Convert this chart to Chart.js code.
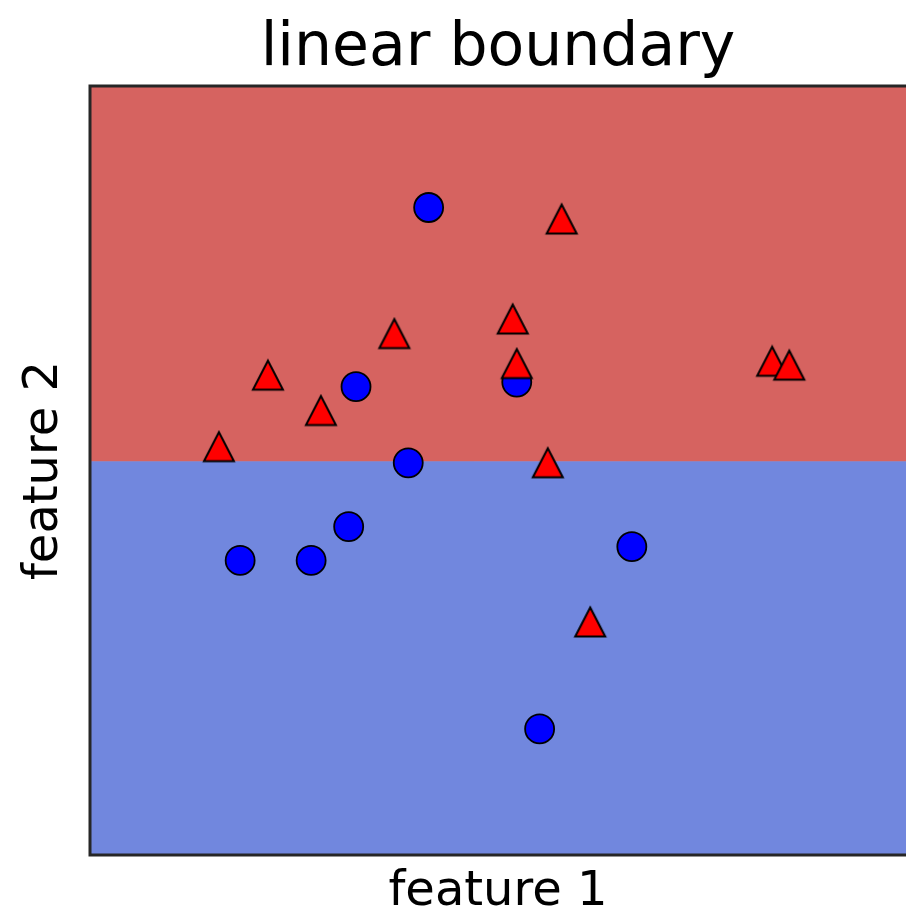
<!DOCTYPE html>
<html>
<head>
<meta charset="utf-8">
<script src="https://cdn.jsdelivr.net/npm/chart.js@4"></script>
<style>
  body { margin: 0; background: #fff; }
  canvas { display: block; }
</style>
</head>
<body>
<canvas id="mycanvas" width="906" height="914"></canvas>
<script>
// class 0 (circles) and class 1 (triangles)
var circleX = [4.15, 3.26, 5.23, 3.90, 3.17, 1.84, 2.71, 6.64, 5.51];
var circleY = [8.42, 6.09, 6.15, 5.10, 4.27, 3.83, 3.83, 4.01, 1.64];
var triX = [5.78, 5.18, 3.73, 2.18, 5.23, 2.83, 1.58, 5.61, 6.13, 8.36, 8.57];
var triY = [8.27, 6.97, 6.78, 6.24, 6.39, 5.78, 5.31, 5.10, 3.03, 6.42, 6.37];
var boundaryY = 5.12;
var xRange = [0, 10];
var yRange = [0, 10];

function toPoints(xs, ys) {
	var pts = [];
	for (var i in xs) {
		pts.push({ x: xs[i], y: ys[i] });
	}
	return pts;
}

// matplotlib style '^' marker
function triangleMarker() {
	var c = document.createElement('canvas');
	c.width = 36;
	c.height = 34;
	var g = c.getContext('2d');
	g.beginPath();
	g.moveTo(18, 2.5);
	g.lineTo(33, 31.5);
	g.lineTo(3, 31.5);
	g.closePath();
	g.fillStyle = '#ff0000';
	g.fill();
	g.lineWidth = 2;
	g.strokeStyle = '#000000';
	g.stroke();
	return c;
}

var frame = {
	id: 'frame',
	afterDraw: function (chart) {
		var a = chart.chartArea;
		var ctx = chart.ctx;
		ctx.save();
		ctx.strokeStyle = '#262626';
		ctx.lineWidth = 3;
		ctx.beginPath();
		ctx.moveTo(a.right + 2, a.top);
		ctx.lineTo(a.left, a.top);
		ctx.lineTo(a.left, a.bottom);
		ctx.lineTo(a.right + 2, a.bottom);
		ctx.stroke();
		ctx.restore();
	}
};

var region = [{ x: xRange[0], y: boundaryY }, { x: xRange[1], y: boundaryY }];

var ctx = document.getElementById('mycanvas');
new Chart(ctx, {
	type: 'scatter',
	data: {
		datasets: [
			{
				label: 'class 1',
				data: toPoints(triX, triY),
				pointStyle: triangleMarker(),
				pointRadius: 16,
				pointHoverRadius: 16
			},
			{
				label: 'class 0',
				data: toPoints(circleX, circleY),
				pointStyle: 'circle',
				pointRadius: 14.5,
				pointHoverRadius: 14.5,
				backgroundColor: '#0000ff',
				borderColor: '#000000',
				borderWidth: 1.8
			},
			{
				type: 'line',
				label: 'upper',
				data: region,
				fill: 'end',
				backgroundColor: 'rgb(214, 99, 96)',
				borderWidth: 0,
				pointRadius: 0
			},
			{
				type: 'line',
				label: 'lower',
				data: region,
				fill: 'start',
				backgroundColor: 'rgb(113, 135, 222)',
				borderColor: 'rgb(113, 135, 222)',
				borderWidth: 1,
				pointRadius: 0
			}
		]
	},
	options: {
		responsive: false,
		animation: false,
		events: [],
		layout: { padding: 0, autoPadding: false },
		plugins: {
			legend: { display: false },
			tooltip: { enabled: false },
			title: {
				display: true,
				fullSize: false,
				text: 'linear boundary',
				color: '#000000',
				font: { family: 'DejaVu Sans', size: 60, weight: 'normal', lineHeight: 1 },
				padding: { top: 19, bottom: 7 }
			}
		},
		scales: {
			x: {
				type: 'linear',
				min: xRange[0],
				max: xRange[1],
				grid: { display: false },
				border: { display: false },
				ticks: { display: false },
				afterFit: function (scale) {
					scale.height = 59;
					scale.paddingLeft = 0;
					scale.paddingRight = 0;
				},
				title: {
					display: true,
					text: 'feature 1',
					color: '#000000',
					font: { family: 'DejaVu Sans', size: 48, lineHeight: 1 },
					padding: { top: 0, bottom: -3 }
				}
			},
			y: {
				type: 'linear',
				min: yRange[0],
				max: yRange[1],
				grid: { display: false },
				border: { display: false },
				ticks: { display: false },
				afterFit: function (scale) {
					scale.width = 90;
					scale.paddingTop = 0;
					scale.paddingBottom = 0;
				},
				title: {
					display: true,
					text: 'feature 2',
					color: '#000000',
					font: { family: 'DejaVu Sans', size: 48, lineHeight: 1 },
					padding: { top: 21, bottom: 0 }
				}
			}
		}
	},
	plugins: [frame]
});
</script>
</body>
</html>
